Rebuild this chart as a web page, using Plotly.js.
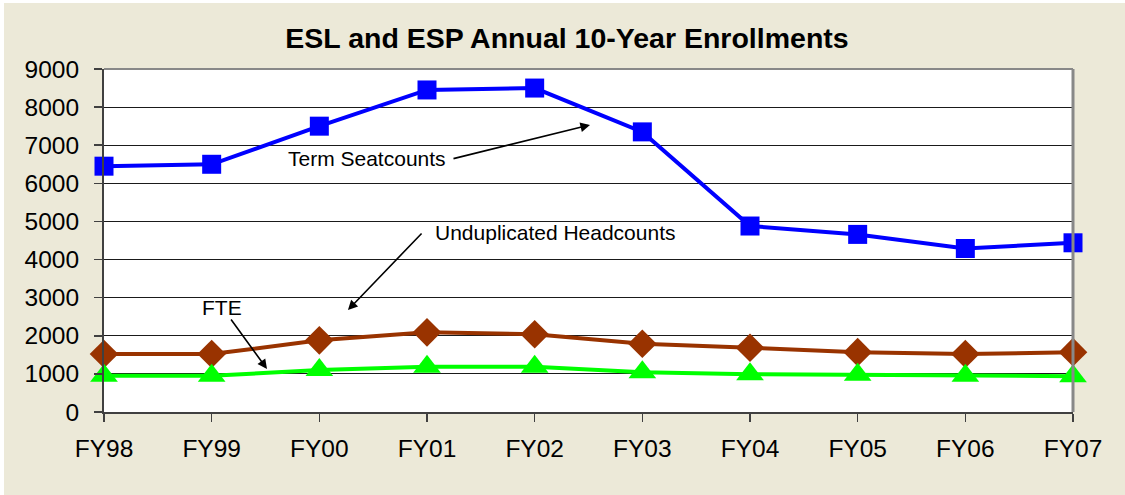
<!DOCTYPE html>
<html>
<head>
<meta charset="utf-8">
<script src="https://cdn.plot.ly/plotly-3.0.1.min.js"></script>
<style>html,body{margin:0;padding:0;background:#ECE9D8;}#chart{width:1125px;height:495px;}</style>
</head>
<body>
<div id="chart"></div>
<script>
var categories = ["FY98","FY99","FY00","FY01","FY02","FY03","FY04","FY05","FY06","FY07"];
var termSeatcounts = [6450, 6500, 7500, 8450, 8500, 7350, 4880, 4660, 4290, 4440];
var headcounts = [1520, 1520, 1880, 2090, 2040, 1790, 1685, 1570, 1520, 1570];
var fte = [950, 950, 1100, 1190, 1190, 1040, 990, 975, 950, 940];
var yTicks = [0,1000,2000,3000,4000,5000,6000,7000,8000,9000];

var FONT = "Liberation Sans, Arial, sans-serif";

var traces = [
  {x: categories, y: termSeatcounts, type: "scatter", mode: "lines+markers", name: "Term Seatcounts",
   line: {color: "#0000FF", width: 4}, marker: {symbol: "square", size: 19, color: "#0000FF"}, cliponaxis: false},
  {x: categories, y: headcounts, type: "scatter", mode: "lines+markers", name: "Unduplicated Headcounts",
   line: {color: "#993300", width: 4}, marker: {symbol: "diamond", size: 22, color: "#993300"}, cliponaxis: false},
  {x: categories, y: fte, type: "scatter", mode: "lines+markers", name: "FTE",
   line: {color: "#00FF00", width: 4}, marker: {symbol: "triangle-up", size: 24, color: "#00FF00"}, cliponaxis: false}
];

function arrow(hx, hy, tx, ty) {
  return {x: hx, y: hy, ax: tx, ay: ty, xref: "x", yref: "y", axref: "x", ayref: "y",
          text: "", showarrow: true, arrowhead: 2, arrowsize: 1.2, arrowwidth: 1.6, arrowcolor: "#000",
          standoff: 0, startstandoff: 0};
}
function label(t, x, y) {
  return {x: x, y: y, xref: "x", yref: "y", text: t, showarrow: false,
          font: {family: FONT, size: 21, color: "#000"}, xanchor: "center", yanchor: "middle"};
}

var layout = {
  width: 1125, height: 495,
  paper_bgcolor: "#ECE9D8", plot_bgcolor: "#FFFFFF",
  margin: {l: 104, r: 52, t: 69, b: 83},
  showlegend: false,
  title: {text: "<b>ESL and ESP Annual 10-Year Enrollments</b>", x: 0.504, xanchor: "center",
          y: 1 - 38/495, yanchor: "middle", yref: "container",
          font: {family: FONT, size: 28.5, color: "#000"}},
  xaxis: {type: "category", range: [0, 9], showgrid: false, zeroline: false,
          showline: true, linecolor: "#404040", linewidth: 2,
          ticks: "outside", ticklen: 8, tickcolor: "#404040", tickwidth: 1.5,
          ticklabelstandoff: 6,
          tickfont: {family: FONT, size: 24.5, color: "#000"}},
  yaxis: {range: [0, 9000], tickvals: yTicks, showgrid: true, gridcolor: "#1a1a1a", gridwidth: 1.2,
          zeroline: false, showline: true, linecolor: "#404040", linewidth: 2,
          ticks: "outside", ticklen: 8, tickcolor: "#404040", tickwidth: 1.5,
          ticklabelstandoff: 10,
          tickfont: {family: FONT, size: 24.5, color: "#000"}},
  shapes: [
    {type: "line", xref: "paper", yref: "paper", x0: 0, x1: 1, y0: 1, y1: 1, line: {color: "#888888", width: 2}},
    {type: "line", xref: "paper", yref: "paper", x0: 1, x1: 1, y0: 0, y1: 1, line: {color: "#888888", width: 3}},
    {type: "rect", xref: "paper", yref: "paper", x0: -104/969, x1: (1125-104)/969, y0: 1 + 66/343, y1: 1 + 69/343,
     line: {width: 0}, fillcolor: "#FFFFFF", layer: "below"},
    {type: "rect", xref: "paper", yref: "paper", x0: -104/969, x1: -100/969, y0: -83/343, y1: 1 + 69/343,
     line: {width: 0}, fillcolor: "#FFFFFF", layer: "below"}
  ],
  annotations: [
    label("Term Seatcounts", 2.44, 6660),
    arrow(4.514, 7531, 3.232, 6639),
    label("Unduplicated Headcounts", 4.19, 4700),
    arrow(2.266, 2676, 2.963, 4723),
    label("FTE", 1.096, 2755),
    arrow(1.514, 1128, 1.170, 2467)
  ]
};

Plotly.newPlot("chart", traces, layout, {displayModeBar: false, staticPlot: true});
</script>
</body>
</html>
